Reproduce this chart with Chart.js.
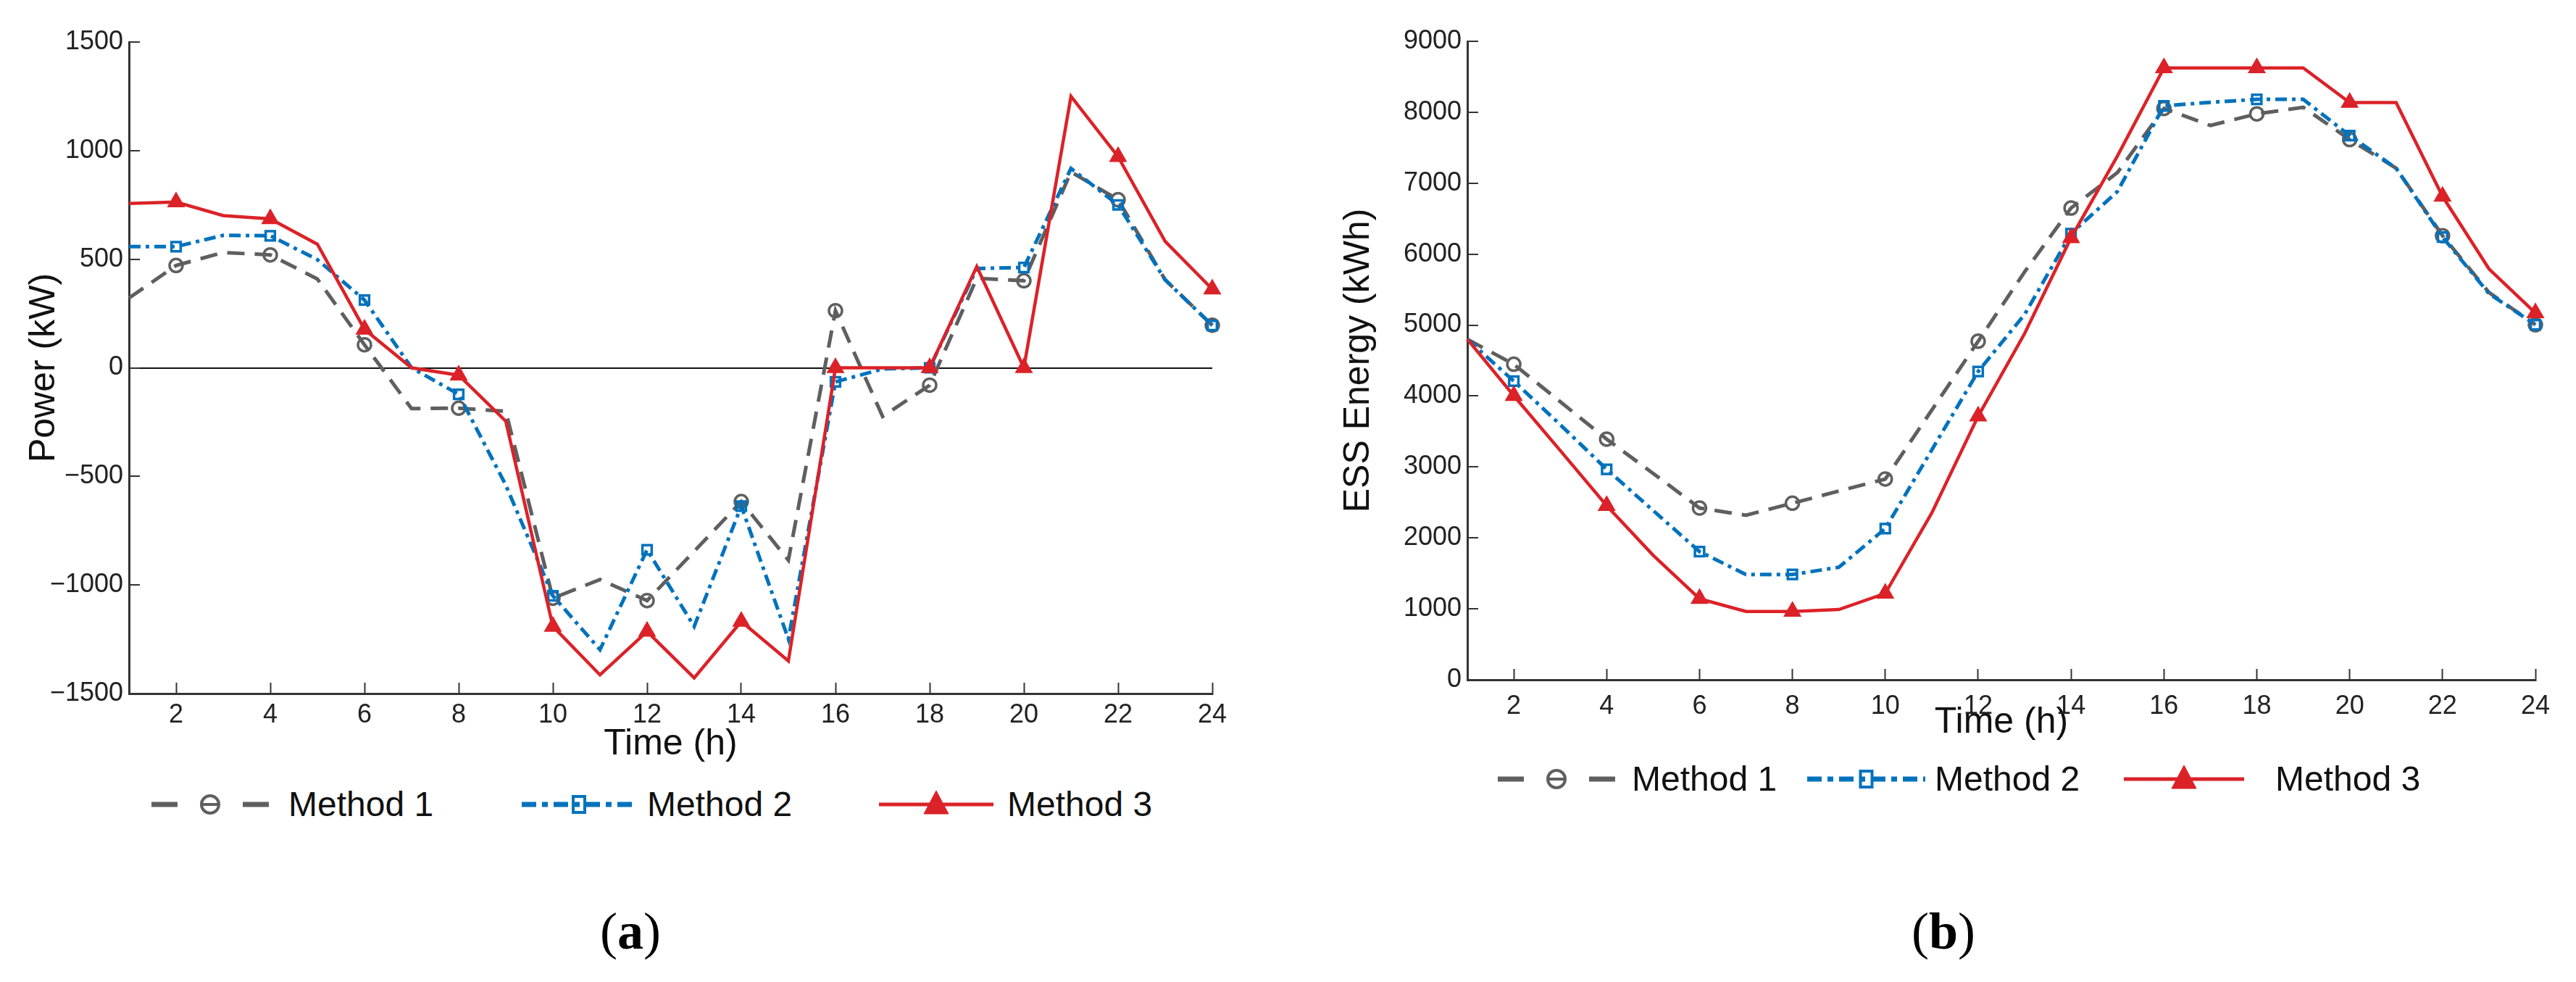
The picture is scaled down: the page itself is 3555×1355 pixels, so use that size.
<!DOCTYPE html>
<html>
<head>
<meta charset="utf-8">
<script src="https://cdn.jsdelivr.net/npm/chart.js@4.4.1/dist/chart.umd.min.js"></script>
<style>
  html, body { margin: 0; padding: 0; background: #fff; }
  body { width: 3555px; height: 1355px; position: relative; overflow: hidden; font-family: "Liberation Sans", Arial, sans-serif; }
  canvas { position: absolute; top: 0; }
  .legend-symbol { position: absolute; }
  .legend-text { position: absolute; font-size: 48px; line-height: 60px; color: #111; white-space: nowrap; }
  .panel-label { position: absolute; font-family: "Liberation Serif", "Times New Roman", serif; font-size: 72px; color: #000; transform: translate(-50%, -50%); }
</style>
</head>
<body>
<canvas id="powerChart" width="1780" height="1060" style="left:0;width:1780px;height:1060px"></canvas>
<canvas id="energyChart" width="1755" height="1060" style="left:1800px;width:1755px;height:1060px"></canvas>
<div id="legendA"></div>
<div id="legendB"></div>
<div class="panel-label" style="left:870px;top:1285px">(<b>a</b>)</div>
<div class="panel-label" style="left:2682px;top:1285px">(<b>b</b>)</div>
<script>
// hours on the x axis
const hours = [1, 2, 3, 4, 5, 6, 7, 8, 9, 10, 11, 12, 13, 14, 15, 16, 17, 18, 19, 20, 21, 22, 23, 24];
const methodNames = ["Method 1", "Method 2", "Method 3"];

// (a) ESS power, kW
const powerM1 = [321, 471, 531, 520, 409, 106, -188, -186, -200, -1061, -975, -1072, -845, -616, -886, 263, -224, -80, 412, 401, 902, 774, 405, 196];
const powerM2 = [558, 558, 610, 608, 498, 312, 0, -122, -540, -1050, -1298, -838, -1191, -637, -1249, -65, -5, 0, 457, 462, 918, 750, 405, 195];
const powerM3 = [757, 763, 701, 686, 569, 177, 0, -34, -246, -1191, -1414, -1214, -1428, -1168, -1350, 0, 0, 0, 466, 0, 1250, 972, 582, 362];

// (b) ESS energy, kWh
const energyM1 = [4800, 4448, 3920, 3392, 2910, 2421, 2319, 2489, 2660, 2830, 3800, 4772, 5750, 6650, 7150, 8053, 7814, 7977, 8070, 7615, 7212, 6260, 5460, 5005];
const energyM2 = [4800, 4210, 3596, 2967, 2387, 1807, 1484, 1484, 1586, 2131, 3239, 4346, 5150, 6290, 6884, 8090, 8140, 8182, 8182, 7671, 7212, 6240, 5444, 5005];
const energyM3 = [4800, 4005, 3232, 2455, 1756, 1143, 963, 963, 990, 1218, 2350, 3715, 4880, 6230, 7385, 8625, 8625, 8625, 8625, 8137, 8137, 6813, 5792, 5171];

const FONT = "'Liberation Sans', Arial, sans-serif";
const styles = [
  { color: "#5f5f5f", width: 5, dash: [24, 14], legendDash: "36 90 36", point: "circle", radius: 9, filled: false, order: 3 },
  { color: "#0072BD", width: 5, dash: [16, 7, 5, 7], legendDash: "20 8 8 8", point: "rect", radius: 9, filled: false, order: 2 },
  { color: "#DB2228", width: 4.5, dash: [], legendDash: "", point: "triangle", radius: 11, filled: true, order: 1 }
];

function makeDatasets(series) {
  return series.map((data, i) => {
    const s = styles[i];
    return {
      label: methodNames[i],
      data: data,
      borderColor: s.color,
      borderWidth: s.width,
      borderDash: s.dash,
      pointStyle: s.point,
      pointRadius: ctx => (ctx.dataIndex % 2 === 1 ? s.radius : 0),
      pointBorderWidth: 3.5,
      pointBorderColor: s.color,
      pointBackgroundColor: s.filled ? s.color : "rgba(0,0,0,0)",
      tension: 0,
      fill: false,
      clip: false,
      order: s.order
    };
  });
}

function makeChart(id, series, o) {
  return new Chart(document.getElementById(id), {
    type: "line",
    data: { labels: hours, datasets: makeDatasets(series) },
    options: {
      responsive: false,
      animation: false,
      devicePixelRatio: 1,
      events: [],
      layout: { padding: { top: o.top, right: o.right, left: 0, bottom: 0 } },
      plugins: { legend: { display: false }, tooltip: { enabled: false } },
      scales: {
        x: {
          type: "linear",
          min: 1,
          max: 24,
          afterBuildTicks: s => { s.ticks = s.ticks.filter(t => t.value % 2 === 0); },
          afterFit: s => { s.height = o.xHeight; },
          ticks: { stepSize: 2, includeBounds: false, autoSkip: false, maxRotation: 0, padding: o.xTickPad, color: "#222", font: { family: FONT, size: 36 } },
          grid: { drawOnChartArea: false, tickLength: -15, tickColor: "#333", tickWidth: 2 },
          border: { color: "#333", width: 3 },
          title: { display: true, text: "Time (h)", color: "#111", font: { family: FONT, size: 50, lineHeight: 1.2 }, padding: { top: 0, bottom: o.xTitlePad } }
        },
        y: {
          min: o.min,
          max: o.max,
          afterFit: s => { s.width = o.yWidth; },
          ticks: {
            stepSize: o.step,
            padding: 23,
            color: "#222",
            font: { family: FONT, size: 36 },
            callback: v => (v < 0 ? "\u2212" + Math.abs(v) : String(v))
          },
          grid: {
            color: ctx => (o.zeroLine && ctx.tick && ctx.tick.value === 0 ? "#111" : "rgba(0,0,0,0)"),
            lineWidth: 2,
            tickLength: -15,
            tickColor: "#333",
            tickWidth: 2
          },
          border: { color: "#333", width: 3 },
          title: { display: true, text: o.yTitle, color: "#111", font: { family: FONT, size: 50, lineHeight: 1.2 }, padding: { top: o.yTitlePad, bottom: 0 } }
        }
      }
    }
  });
}

const chartA = makeChart("powerChart", [powerM1, powerM2, powerM3], {
  top: 58, right: 107, xHeight: 103, yWidth: 178, xTickPad: 23, xTitlePad: 3,
  min: -1500, max: 1500, step: 500, zeroLine: true, yTitle: "Power (kW)", yTitlePad: 31
});

const chartB = makeChart("energyChart", [energyM1, energyM2, energyM3], {
  top: 57, right: 56, xHeight: 122, yWidth: 225, xTickPad: 30, xTitlePad: 33,
  min: 0, max: 9000, step: 1000, zeroLine: false, yTitle: "ESS Energy (kWh)", yTitlePad: 45
});

// legend: line sample with marker, then label
function buildLegend(holderId, chart, centerY, slots) {
  const holder = document.getElementById(holderId);
  const NS = "http://www.w3.org/2000/svg";
  chart.data.datasets.forEach((ds, i) => {
    const s = styles[i];
    const slot = slots[i];
    const w = slot.w, h = 60, cy = h / 2, cx = w / 2;
    const svg = document.createElementNS(NS, "svg");
    svg.setAttribute("width", w);
    svg.setAttribute("height", h);
    svg.setAttribute("class", "legend-symbol");
    svg.style.left = slot.x + "px";
    svg.style.top = (centerY - cy) + "px";
    const line = document.createElementNS(NS, "line");
    line.setAttribute("x1", 0); line.setAttribute("x2", w);
    line.setAttribute("y1", cy); line.setAttribute("y2", cy);
    line.setAttribute("stroke", ds.borderColor);
    line.setAttribute("stroke-width", s.filled ? 5 : 7);
    if (s.legendDash) line.setAttribute("stroke-dasharray", s.legendDash);
    svg.appendChild(line);
    let mk;
    if (s.point === "circle") {
      mk = document.createElementNS(NS, "circle");
      mk.setAttribute("cx", cx); mk.setAttribute("cy", cy); mk.setAttribute("r", 12);
      const bar = document.createElementNS(NS, "line");
      bar.setAttribute("x1", cx - 11); bar.setAttribute("x2", cx + 11);
      bar.setAttribute("y1", cy); bar.setAttribute("y2", cy);
      bar.setAttribute("stroke", ds.borderColor); bar.setAttribute("stroke-width", 4);
      svg.appendChild(bar);
    } else if (s.point === "rect") {
      mk = document.createElementNS(NS, "rect");
      mk.setAttribute("x", cx - 8); mk.setAttribute("y", cy - 11);
      mk.setAttribute("width", 16); mk.setAttribute("height", 22);
    } else {
      mk = document.createElementNS(NS, "polygon");
      mk.setAttribute("points", `${cx},${cy - 19} ${cx - 17},${cy + 13} ${cx + 17},${cy + 13}`);
    }
    mk.setAttribute("stroke", ds.borderColor);
    mk.setAttribute("stroke-width", s.filled ? 1 : 4);
    mk.setAttribute("fill", s.filled ? ds.borderColor : "none");
    svg.appendChild(mk);
    holder.appendChild(svg);

    const txt = document.createElement("div");
    txt.className = "legend-text";
    txt.textContent = ds.label;
    txt.style.left = slot.textX + "px";
    txt.style.top = (centerY - 30) + "px";
    holder.appendChild(txt);
  });
}

buildLegend("legendA", chartA, 1110, [
  { x: 209, w: 162, textX: 398 },
  { x: 720, w: 158, textX: 893 },
  { x: 1213, w: 158, textX: 1390 }
]);
buildLegend("legendB", chartB, 1075, [
  { x: 2067, w: 162, textX: 2252 },
  { x: 2494, w: 163, textX: 2670 },
  { x: 2931, w: 166, textX: 3140 }
]);
</script>
</body>
</html>
